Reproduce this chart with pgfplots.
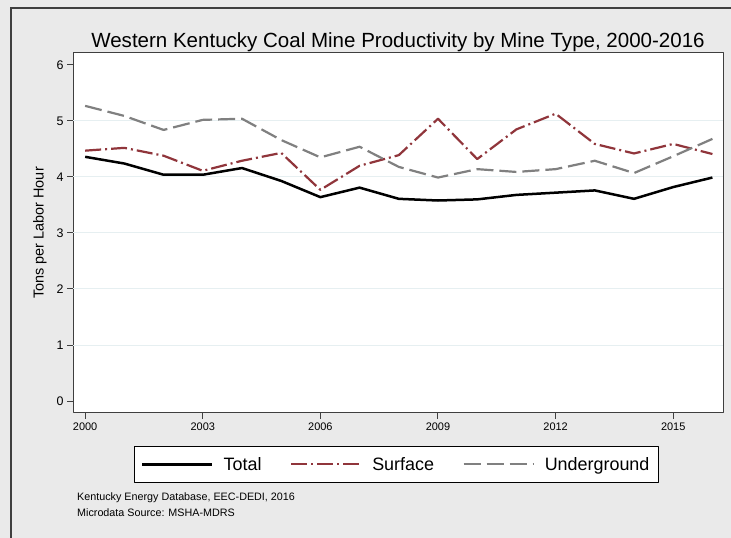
\documentclass[border=0pt]{standalone}
\usepackage{fontspec}
\setmainfont{Liberation Sans}
\usepackage{pgfplots}
\pgfplotsset{compat=1.18}

\definecolor{bgframe}{HTML}{EAEAEA}
\definecolor{framedark}{HTML}{3F3F3F}
\definecolor{cranberry}{RGB}{144,53,59}
\definecolor{gridtone}{HTML}{E6EFF1}
\definecolor{midgray}{HTML}{808080}

% Tons per labor hour, Western Kentucky coal mines
\pgfplotstableread{
year total surface underground
2000 4.36 4.47 5.27
2001 4.24 4.52 5.09
2002 4.04 4.38 4.84
2003 4.04 4.11 5.02
2004 4.16 4.29 5.04
2005 3.93 4.43 4.66
2006 3.64 3.77 4.35
2007 3.81 4.20 4.54
2008 3.61 4.39 4.18
2009 3.58 5.04 3.99
2010 3.60 4.32 4.14
2011 3.68 4.85 4.09
2012 3.72 5.13 4.14
2013 3.76 4.59 4.29
2014 3.61 4.42 4.07
2015 3.82 4.59 4.37
2016 3.99 4.41 4.68
}\productivity

\begin{document}
\begin{tikzpicture}[x=1bp,y=1bp]
\useasboundingbox (0,0) rectangle (731,538);
\fill[bgframe] (0,0) rectangle (731,538);
\draw[framedark, line width=2bp] (11,0) -- (11,529.5) -- (731,529.5);

\begin{axis}[
  at={(73bp,125bp)}, anchor=south west,
  scale only axis, width=650bp, height=360bp,
  xmin=1999.69, xmax=2016.27, ymin=-0.214, ymax=6.214,
  axis background/.style={fill=white},
  axis line style={framedark, line width=1bp},
  xtick={2000,2003,...,2015}, ytick={0,...,6},
  xtick pos=lower, ytick pos=left, tick align=outside,
  major tick length=6bp,
  tick style={framedark, line width=1bp},
  /pgf/number format/assume math mode=true,
  x tick label style={/pgf/number format/1000 sep={}, font=\fontsize{11}{13}\selectfont},
  y tick label style={font=\fontsize{12.5}{14}\selectfont},
  extra y ticks={1,2,3,4,5}, extra y tick labels={},
  extra y tick style={grid=major, major tick length=0pt},
  grid style={gridtone, line width=1bp},
  title={Western Kentucky Coal Mine Productivity by Mine Type, 2000-2016},
  title style={at={(axis description cs:0.5,1)}, anchor=base, yshift=0bp,
    font=\fontsize{20.6}{23}\selectfont},
  ylabel={Tons per Labor Hour},
  ylabel style={at={(axis description cs:-0.0508,0.5)}, anchor=center,
    font=\fontsize{14.5}{17}\selectfont},
  legend columns=3,
  legend image code/.code={\draw[#1] (0bp,0bp) -- (70bp,0bp);},
  legend style={at={(axis description cs:0.4974,-0.1425)}, anchor=center,
    draw=black, line width=0.8bp, fill=white,
    inner xsep=6.5bp, inner ysep=9bp,
    font=\fontsize{18}{20}\selectfont,
    /tikz/every odd column/.append style={column sep=8bp},
    /tikz/every even column/.append style={column sep=26.5bp}},
  line join=round,
]
\addplot[black, line width=2.5bp] table[x=year, y=total] {\productivity};
\addlegendentry{Total}
\addplot[cranberry, line width=2.2bp, dash pattern=on 16bp off 4bp on 2bp off 4bp] table[x=year, y=surface] {\productivity};
\addlegendentry{Surface}
\addplot[midgray, line width=2.2bp, dash pattern=on 17bp off 6bp] table[x=year, y=underground] {\productivity};
\addlegendentry{Underground}
\end{axis}

\node[anchor=base west, inner sep=0pt, font=\fontsize{10.8}{12}\selectfont] at (77,37.3) {Kentucky Energy Database, EEC-DEDI, 2016};
\node[anchor=base west, inner sep=0pt, font=\fontsize{10.8}{12}\selectfont] at (77,21.3) {Microdata Source: MSHA-MDRS};
\end{tikzpicture}
\end{document}
